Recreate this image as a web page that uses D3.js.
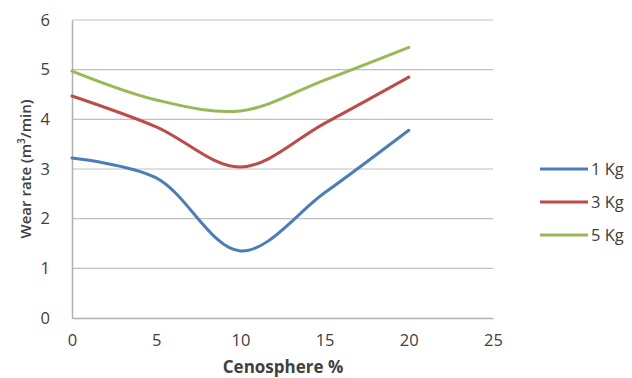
<html>
<head>
<meta charset="utf-8" />
<script src="https://d3js.org/d3.v7.min.js"></script>
<style>
  body { margin: 0; background: #fff; }
  text { font-family: "Open Sans", Arial, sans-serif; fill: #404040; }
</style>
</head>
<body>
<svg id="chart" width="632" height="378"></svg>
<script>
  var cenosphere = [0, 5, 10, 15, 20];
  var kg1 = [3.22, 2.82, 1.35, 2.52, 3.78];
  var kg3 = [4.47, 3.85, 3.04, 3.92, 4.85];
  var kg5 = [4.97, 4.39, 4.17, 4.79, 5.45];
  var seriesNames = ["1 Kg", "3 Kg", "5 Kg"];
  var xTicks = [0, 5, 10, 15, 20, 25];
  var yTicks = [0, 1, 2, 3, 4, 5, 6];

  var colors = ["#4a7ebb", "#be4b48", "#98b954"];
  var series = [kg1, kg3, kg5];

  var svg = d3.select("#chart"),
    margin = { left: 72, right: 139, top: 20, bottom: 60 },
    width = +svg.attr("width"),
    height = +svg.attr("height");

  var x = d3.scaleLinear().domain([0, 25]).range([margin.left, width - margin.right]);
  var y = d3.scaleLinear().domain([0, 6]).range([height - margin.bottom, margin.top]);

  // gridlines
  svg.append("g")
    .selectAll("line")
    .data(yTicks.slice(1))
    .enter()
    .append("line")
    .attr("x1", x(0))
    .attr("x2", x(25))
    .attr("y1", (d) => y(d))
    .attr("y2", (d) => y(d))
    .attr("stroke", "#c0c0c0")
    .attr("stroke-width", 1.2);

  // axes
  var yAxis = svg.append("g")
    .attr("transform", "translate(" + x(0) + ",0)")
    .call(d3.axisLeft(y).tickValues(yTicks).tickFormat(d3.format("d")).tickSize(0).tickPadding(22));
  var xAxis = svg.append("g")
    .attr("transform", "translate(0," + y(0) + ")")
    .call(d3.axisBottom(x).tickValues(xTicks).tickFormat(d3.format("d")).tickSize(0).tickPadding(16));
  [xAxis, yAxis].forEach(function (g) {
    g.select(".domain").attr("stroke", "#b0b0b0").attr("stroke-width", 1.5);
    g.selectAll("text").style("font-size", "16.5px").attr("fill", "#404040");
  });

  // lines
  var line = d3.line()
    .x((d, i) => x(cenosphere[i]))
    .y((d) => y(d))
    .curve(d3.curveCatmullRom.alpha(0.5));

  svg.append("g")
    .selectAll("path")
    .data(series)
    .enter()
    .append("path")
    .attr("d", line)
    .attr("fill", "none")
    .attr("stroke", (d, i) => colors[i])
    .attr("stroke-width", 3)
    .attr("stroke-linecap", "round");

  // axis titles
  svg.append("text")
    .attr("transform", "translate(31," + y(3) + ") rotate(-90)")
    .attr("text-anchor", "middle")
    .style("font-size", "15px")
    .style("font-weight", "600")
    .html('Wear rate (m<tspan dy="-6" font-size="10px">3</tspan><tspan dy="6">/min)</tspan>');

  svg.append("text")
    .attr("x", 283)
    .attr("y", 373)
    .attr("text-anchor", "middle")
    .style("font-size", "17px")
    .style("font-weight", "bold")
    .text("Cenosphere %");

  // legend
  var legend = svg.append("g")
    .selectAll("g")
    .data(seriesNames)
    .enter()
    .append("g")
    .attr("transform", (d, i) => "translate(540," + (169 + i * 33) + ")");
  legend.append("line")
    .attr("x1", 0).attr("x2", 48)
    .attr("stroke", (d, i) => colors[i])
    .attr("stroke-width", 3);
  legend.append("text")
    .attr("x", 51)
    .attr("y", 6)
    .style("font-size", "16.5px")
    .text((d) => d);
</script>
</body>
</html>
